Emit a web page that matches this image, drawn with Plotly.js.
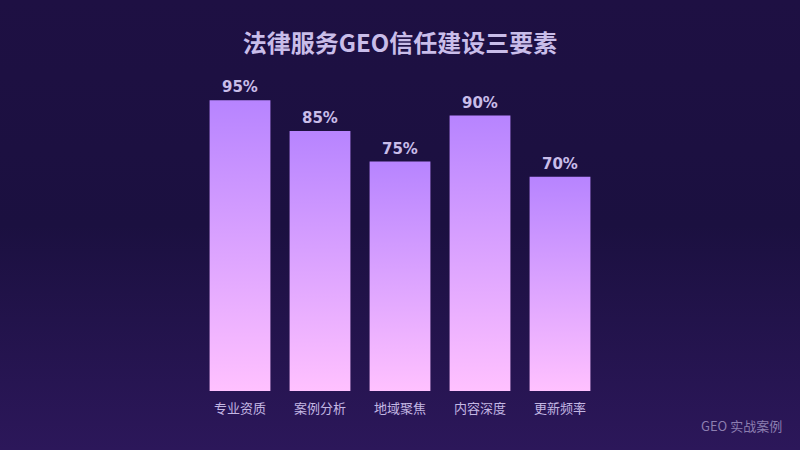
<!DOCTYPE html>
<html>
<head>
<meta charset="utf-8">
<script src="https://cdn.plot.ly/plotly-3.0.1.min.js"></script>
<style>
  html, body { margin: 0; padding: 0; }
  body {
    width: 800px; height: 450px; overflow: hidden;
    background: linear-gradient(to bottom, #1e1043 0%, #1b1040 50%, #2c175a 100%);
  }
  #chart { width: 800px; height: 450px; }
</style>
</head>
<body>
<div id="chart"></div>
<script>
// data
var categories = ['专业资质', '案例分析', '地域聚焦', '内容深度', '更新频率'];
var scores = [95, 85, 75, 90, 70];
var labels = scores.map(function (v) { return v + '%'; });

var BAR_HALF = 0.38;
var textColor = '#c9bde9';

// each bar is a filled polygon so it can carry a vertical gradient
var traces = categories.map(function (cat, i) {
    return {
        type: 'scatter',
        mode: 'lines',
        x: [i - BAR_HALF, i + BAR_HALF, i + BAR_HALF, i - BAR_HALF, i - BAR_HALF],
        y: [0, 0, scores[i], scores[i], 0],
        fill: 'toself',
        line: { width: 0, color: 'rgba(0,0,0,0)' },
        fillgradient: {
            type: 'vertical',
            colorscale: [[0, '#ffc1ff'], [1, '#b784ff']]
        },
        hoverinfo: 'skip',
        showlegend: false
    };
});

// value labels above the bars
var valueNotes = scores.map(function (v, i) {
    return {
        x: i, y: v,
        xref: 'x', yref: 'y',
        text: '<b>' + labels[i] + '</b>',
        showarrow: false,
        yanchor: 'bottom',
        yshift: 2,
        font: { family: 'DejaVu Sans, sans-serif', size: 15, color: textColor }
    };
});

var layout = {
    width: 800,
    height: 450,
    paper_bgcolor: 'rgba(0,0,0,0)',
    plot_bgcolor: 'rgba(0,0,0,0)',
    margin: { l: 200, r: 200, t: 85, b: 59 },
    title: {
        text: '<b>法律服务GEO信任建设三要素</b>',
        x: 0.5,
        xanchor: 'center',
        y: 0.903,
        yref: 'container',
        yanchor: 'middle',
        font: { family: 'Noto Sans CJK SC, sans-serif', size: 24, color: textColor }
    },
    xaxis: {
        range: [-0.5, categories.length - 0.5],
        tickvals: categories.map(function (c, i) { return i; }),
        ticktext: categories,
        showgrid: false,
        zeroline: false,
        showline: false,
        ticks: '',
        ticklabelstandoff: 8,
        tickfont: { family: 'Noto Sans CJK SC, sans-serif', size: 13, color: '#c3b7e3' },
        fixedrange: true
    },
    yaxis: {
        range: [0, 100],
        visible: false,
        fixedrange: true
    },
    annotations: valueNotes.concat([{
        text: 'GEO 实战案例',
        xref: 'paper', yref: 'paper',
        x: 1.46, y: -0.112,
        xanchor: 'right', yanchor: 'middle',
        showarrow: false,
        font: { family: 'Noto Sans CJK SC, sans-serif', size: 13, color: '#8c7eb0' }
    }])
};

Plotly.newPlot('chart', traces, layout, { displayModeBar: false, staticPlot: true });
</script>
</body>
</html>
